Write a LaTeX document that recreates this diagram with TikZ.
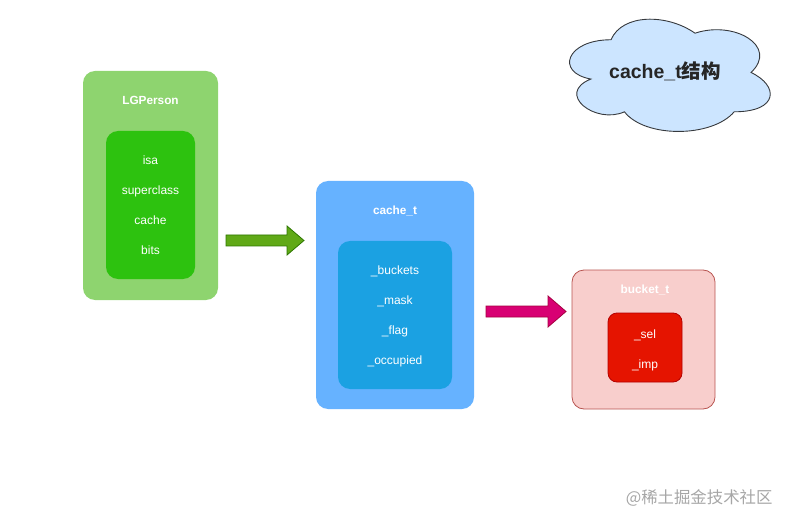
\documentclass[tikz,border=0pt]{standalone}
\usepackage{fontspec}
\setmainfont{Liberation Sans}
\newfontfamily\cjk{Noto Sans CJK SC}
\definecolor{gOut}{HTML}{8ED46F}
\definecolor{gIn}{HTML}{2DC20F}
\definecolor{bOut}{HTML}{66B2FF}
\definecolor{bIn}{HTML}{1BA1E2}
\definecolor{rOut}{HTML}{F8CECC}
\definecolor{rOutS}{HTML}{B85450}
\definecolor{rIn}{HTML}{E51400}
\definecolor{rInS}{HTML}{B20000}
\definecolor{cloudF}{HTML}{CCE5FF}
\definecolor{cloudS}{HTML}{36393D}
\definecolor{arG}{HTML}{60A917}
\definecolor{arGS}{HTML}{2D7600}
\definecolor{arP}{HTML}{D80073}
\definecolor{arPS}{HTML}{A50040}
\tikzset{
  x=1pt,y=-1pt,
  box/.style={rounded corners=12pt},
  title/.style={text=white,font=\bfseries\fontsize{11.8}{13}\selectfont,text height=8.6pt,text depth=2.5pt},
  item/.style={text=white,font=\fontsize{12}{13}\selectfont,text height=8.6pt,text depth=2.5pt},
  bigarrow/.style={line width=0.8pt,line join=miter},
}
\begin{document}
\begin{tikzpicture}
\useasboundingbox (0,0) rectangle (791,526);
% LGPerson
\fill[gOut,box] (83,71) rectangle (218,300);
\fill[gIn,box] (106,131) rectangle (195,279);
\node[title] (lg) at (150.5,101.5) {LGPerson};
\node[item] (isa) at (150.5,161) {isa};
\node[item] (sup) at (150.5,191) {superclass};
\node[item] (cac) at (150.5,221) {cache};
\node[item] (bit) at (150.5,251) {bits};
% cache_t
\fill[bOut,box] (316,181) rectangle (474,409);
\fill[bIn,box] (338,241) rectangle (452,389);
\node[title] (ct) at (395,211.5) {cache\_t};
\node[item] (bk) at (395,271) {\_buckets};
\node[item] (mk) at (395,301) {\_mask};
\node[item] (fl) at (395,331) {\_flag};
\node[item] (oc) at (395,361) {\_occupied};
% bucket_t
\filldraw[fill=rOut,draw=rOutS,line width=0.8pt,box] (572,270) rectangle (715,409);
\filldraw[fill=rIn,draw=rInS,line width=0.8pt,rounded corners=9pt] (608,313) rectangle (682,382);
\node[title] (bt) at (645,290.5) {bucket\_t};
\node[item] (sel) at (645,335) {\_sel};
\node[item] (imp) at (645,365) {\_imp};
% cloud (draw.io cloud outline)
\begin{scope}[shift={(555,7)},x=224pt,y=-131pt]
\filldraw[fill=cloudF,draw=cloudS,line width=0.9pt]
  (0.25,0.25) .. controls (0.05,0.25) and (0,0.5) .. (0.16,0.55)
  .. controls (0,0.66) and (0.18,0.9) .. (0.31,0.8)
  .. controls (0.4,1) and (0.7,1) .. (0.8,0.8)
  .. controls (1,0.8) and (1,0.6) .. (0.875,0.5)
  .. controls (1,0.3) and (0.8,0.1) .. (0.625,0.2)
  .. controls (0.5,0.05) and (0.3,0.05) .. (0.25,0.25) -- cycle;
\end{scope}
\node[text=black!85,font=\bfseries\fontsize{19.5}{21}\selectfont] (clt) at (665,71.5) {cache\_t{\cjk\bfseries 结构}};
% arrows
\filldraw[bigarrow,fill=arG,draw=arGS] (226,235) -- (287,235) -- (287,226) -- (304,240.5) -- (287,255) -- (287,246) -- (226,246) -- cycle;
\filldraw[bigarrow,fill=arP,draw=arPS] (486,306) -- (548,306) -- (548,296) -- (566,311.5) -- (548,327) -- (548,317) -- (486,317) -- cycle;
% watermark
\node[text=black!35,font=\cjk\fontsize{16.4}{18}\selectfont,anchor=east] (wm) at (776,497.5) {@稀土掘金技术社区};
\end{tikzpicture}
\end{document}
